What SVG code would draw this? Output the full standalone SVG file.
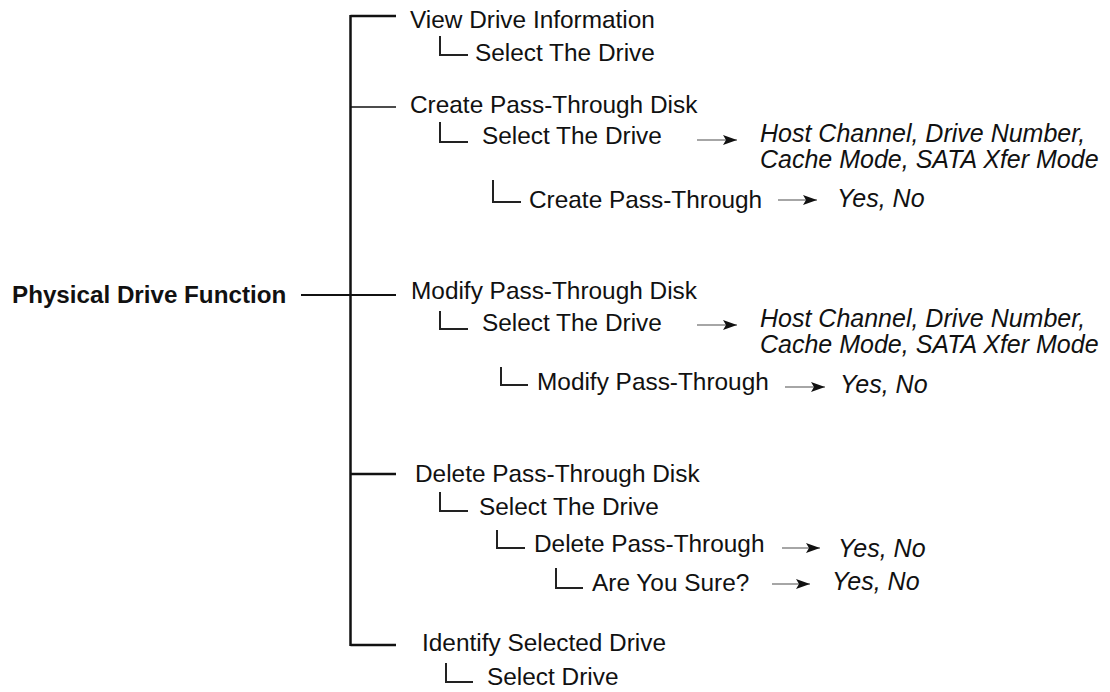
<svg xmlns="http://www.w3.org/2000/svg" width="1110" height="692" viewBox="0 0 1110 692">
<defs>
<style>
text{font-family:"Liberation Sans",Arial,sans-serif;font-size:24.4px;fill:#111}
.b{font-weight:bold;font-size:24.2px}
.i{font-style:italic;font-size:25px}
.trunk{stroke:#111;fill:none;stroke-width:2.5}
.elbow{stroke:#222;fill:none;stroke-width:2}
.arr{stroke:#888;stroke-width:1.3;fill:none;marker-end:url(#ah)}
</style>
<marker id="ah" markerUnits="userSpaceOnUse" markerWidth="16" markerHeight="12" refX="14" refY="6" orient="auto">
<path d="M0,1 L14,6 L0,11 L3,6 Z" fill="#111"/>
</marker>
</defs>
<rect width="1110" height="692" fill="#fff"/>
<g id="connectors">
<path class="trunk" d="M350.5,15 V646"/>
<path class="trunk" d="M350.5,16 H396"/>
<path d="M350.5,107 H396" stroke="#111" stroke-width="1.3" fill="none"/>
<path d="M301,295 H396" stroke="#111" stroke-width="2" fill="none"/>
<path class="trunk" d="M350.5,474 H396"/>
<path class="trunk" d="M350.5,645 H396"/>
<path class="elbow" d="M440,36 V55 H468"/>
<path class="elbow" d="M440,122 V142 H468"/>
<path class="elbow" d="M493,180 V202 H521"/>
<path class="elbow" d="M440,311 V329 H468"/>
<path class="elbow" d="M501,367 V385 H528"/>
<path class="elbow" d="M440,492 V511 H468"/>
<path class="elbow" d="M497,530 V548 H525"/>
<path class="elbow" d="M556,568 V588 H583"/>
<path class="elbow" d="M446,663 V682 H473"/>
<line class="arr" x1="697" y1="140" x2="737" y2="140"/>
<line class="arr" x1="778" y1="200" x2="817" y2="200"/>
<line class="arr" x1="697" y1="325" x2="737" y2="325"/>
<line class="arr" x1="785" y1="387" x2="825" y2="387"/>
<line class="arr" x1="782" y1="548" x2="820" y2="548"/>
<line class="arr" x1="772" y1="584" x2="810" y2="584"/>
</g>
<g id="root"><text class="b" x="12" y="303">Physical Drive Function</text></g>
<g id="view">
<text x="410" y="28">View Drive Information</text>
<text x="475" y="61">Select The Drive</text>
</g>
<g id="create">
<text x="410" y="113">Create Pass-Through Disk</text>
<text x="482" y="144">Select The Drive</text>
<text class="i" x="760" y="142">Host Channel, Drive Number,</text>
<text class="i" x="760" y="168">Cache Mode, SATA Xfer Mode</text>
<text x="529" y="208">Create Pass-Through</text>
<text class="i" x="837" y="207">Yes, No</text>
</g>
<g id="modify">
<text x="411" y="299">Modify Pass-Through Disk</text>
<text x="482" y="331">Select The Drive</text>
<text class="i" x="760" y="327">Host Channel, Drive Number,</text>
<text class="i" x="760" y="353">Cache Mode, SATA Xfer Mode</text>
<text x="537" y="390">Modify Pass-Through</text>
<text class="i" x="840" y="393">Yes, No</text>
</g>
<g id="delete">
<text x="415" y="482">Delete Pass-Through Disk</text>
<text x="479" y="515">Select The Drive</text>
<text x="534" y="552">Delete Pass-Through</text>
<text class="i" x="838" y="557">Yes, No</text>
<text x="592" y="591">Are You Sure?</text>
<text class="i" x="832" y="590">Yes, No</text>
</g>
<g id="identify">
<text x="422" y="651">Identify Selected Drive</text>
<text x="487" y="685">Select Drive</text>
</g>
</svg>
